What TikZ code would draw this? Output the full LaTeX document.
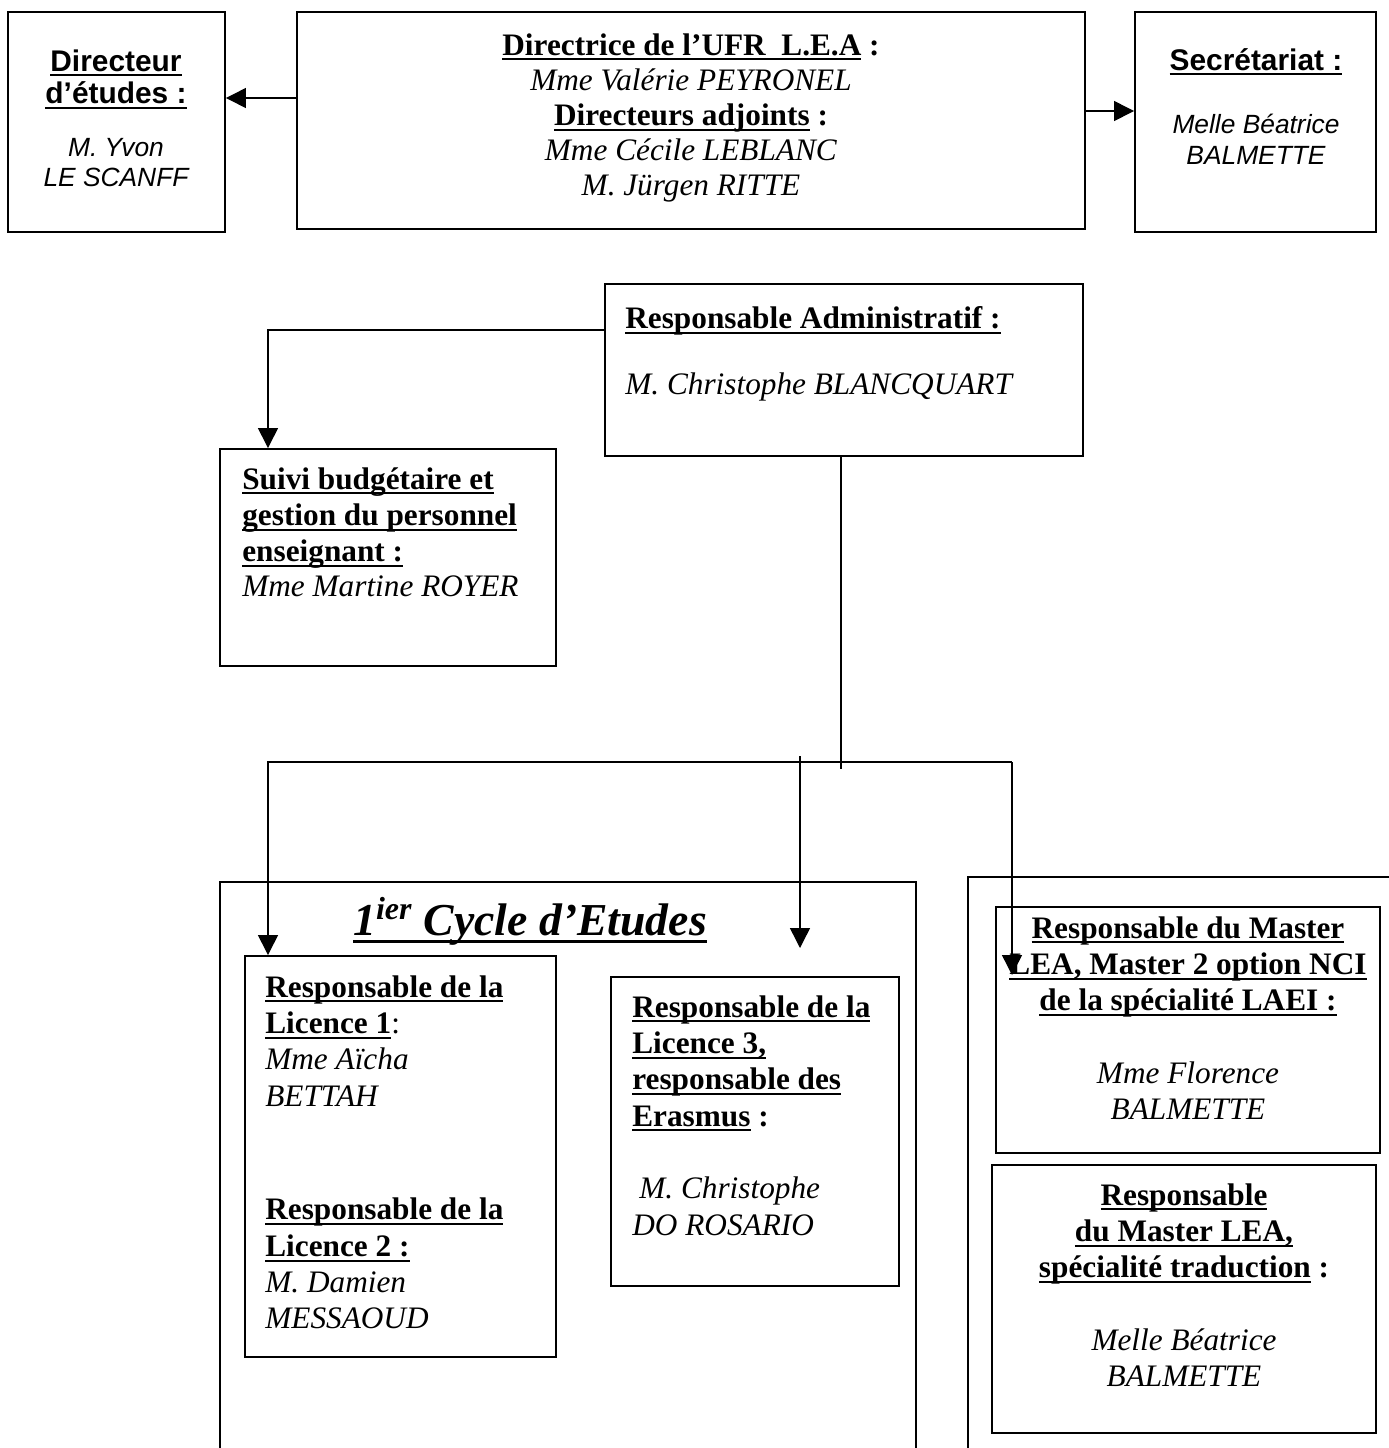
\documentclass[tikz,border=0pt]{standalone}
\usepackage{fontspec}
\setmainfont{Liberation Serif}
\setsansfont{Liberation Sans}
\usepackage{tikz}
\usetikzlibrary{arrows.meta, positioning, fit}
\tikzstyle{arrow} = [line width=0.8pt, -{Triangle[length=0.4cm, width=0.4cm]}]
\tikzstyle{frame} = [rectangle, draw=black, line width=1.1pt, inner sep=0pt]
\tikzstyle{txt} = [inner sep=0pt, font=\fontsize{17.8}{20.7}\selectfont]
\tikzstyle{sanstxt} = [inner sep=0pt, font=\sffamily\fontsize{17}{18.7}\selectfont]
\tikzstyle{sansname} = [inner sep=0pt, font=\sffamily\itshape\fontsize{15}{17.3}\selectfont]
\newcommand{\ulx}[1]{\setbox0\hbox{#1}\rlap{\rule[-0.17em]{\wd0}{0.065em}}\box0}
\newcommand{\ulb}[1]{\textbf{\ulx{#1}}}

\begin{document}
\begin{tikzpicture}[x=0.02cm, y=-0.02cm]
    \useasboundingbox (0,0) rectangle (1389,1448);

    % Direction de l'UFR
    \node[frame, fit={(297,12) (1085,229)}] (ufr) {};
    \node[txt, font=\fontsize{17.8}{20}\selectfont, anchor=north, align=center] (ufrtxt) at (691,33) {\ulb{Directrice de l’UFR\ \ L.E.A} \textbf{:}\\ \textit{Mme Valérie PEYRONEL}\\ \ulb{Directeurs adjoints} \textbf{:}\\ \textit{Mme Cécile LEBLANC}\\ \textit{M. Jürgen RITTE}};

    % Directeur d'etudes
    \node[frame, fit={(8,12) (225,232)}] (dir) {};
    \node[sanstxt, anchor=north, align=center] (dirtxt) at (116,49) {\ulb{Directeur}\\ \ulb{d’études :}};
    \node[sansname, anchor=north, align=center] (dirname) at (116,138) {M. Yvon\\ LE SCANFF};

    % Secretariat
    \node[frame, fit={(1135,12) (1376,232)}] (secr) {};
    \node[sanstxt, anchor=north, align=center] (secrtxt) at (1256,48) {\ulb{Secrétariat :}};
    \node[sansname, anchor=north, align=center] (secrname) at (1256,114) {Melle Béatrice\\ BALMETTE};

    \draw[arrow] (ufr.west |- 0,98) -- (dir.east |- 0,98);
    \draw[arrow] (ufr.east |- 0,111) -- (secr.west |- 0,111);

    % Responsable administratif
    \node[frame, fit={(605,284) (1083,456)}] (admin) {};
    \node[txt, anchor=north west, align=left] (admintxt) at (625,306) {\ulb{Responsable Administratif :}\\[17pt] \textit{M. Christophe BLANCQUART}};

    % Suivi budgetaire
    \node[frame, fit={(220,449) (556,666)}] (suivi) {};
    \node[txt, anchor=north west, align=left] (suivitxt) at (242,467) {\ulb{Suivi budgétaire et}\\ \ulb{gestion du personnel}\\ \ulb{enseignant :}\\[-1pt] \textit{Mme Martine ROYER}};
    \draw[arrow] (admin.west |- 0,330) -| (suivi.north -| 268,0);

    % Branches
    \coordinate (hubend) at (841,769);
    \coordinate (busL) at (268,762);
    \coordinate (busR) at (1012,762);
    \coordinate (midTop) at (800,756);
    \coordinate (midTip) at (800,948);
    \coordinate (nciTip) at (1012,975);
    \draw[line width=0.8pt] (admin.south -| hubend) -- (hubend);

    % 1ier cycle
    \node[frame, fit={(220,882) (916,1470)}] (cycle) {};
    \node[txt, font=\fontsize{26}{30}\selectfont\bfseries\itshape, anchor=north] (cycletxt) at (530,897) {\ulx{1\textsuperscript{ier} Cycle d’Etudes}};

    \node[frame, fit={(245,956) (556,1357)}] (lic12) {};
    \node[txt, anchor=north west, align=left] (lic12txt) at (265,975) {\ulb{Responsable de la}\\ \ulb{Licence 1}:\\ \textit{Mme Aïcha}\\ \textit{BETTAH}\\[44pt] \ulb{Responsable de la}\\ \ulb{Licence 2 :}\\ \textit{M. Damien}\\ \textit{MESSAOUD}};

    \node[frame, fit={(611,977) (899,1286)}] (lic3) {};
    \node[txt, anchor=north west, align=left] (lic3txt) at (632,995) {\ulb{Responsable de la}\\ \ulb{Licence 3,}\\ \ulb{responsable des}\\ \ulb{Erasmus} \textbf{:}\\[20.7pt] \hspace*{4pt}\textit{M. Christophe}\\ \textit{DO ROSARIO}};

    % Masters
    \node[frame, fit={(968,877) (1410,1470)}] (master) {};
    \node[frame, fit={(996,907) (1380,1153)}] (nci) {};
    \node[txt, anchor=north, align=center] (ncitxt) at (1188,916) {\ulb{Responsable du Master}\\ \ulb{LEA, Master 2 option NCI}\\ \ulb{de la spécialité LAEI :}\\[20.7pt] \textit{Mme Florence}\\ \textit{BALMETTE}};

    \node[frame, fit={(992,1165) (1376,1433)}] (trad) {};
    \node[txt, anchor=north, align=center] (tradtxt) at (1184,1183) {\ulb{Responsable}\\ \ulb{du Master LEA,}\\ \ulb{spécialité traduction} \textbf{:}\\[20.7pt] \textit{Melle Béatrice}\\ \textit{BALMETTE}};

    \draw[arrow] (busR) -- (busL) -- (lic12.north -| busL);
    \draw[arrow] (midTop) -- (midTip);
    \draw[arrow] (busR) -- (nciTip);
\end{tikzpicture}
\end{document}
